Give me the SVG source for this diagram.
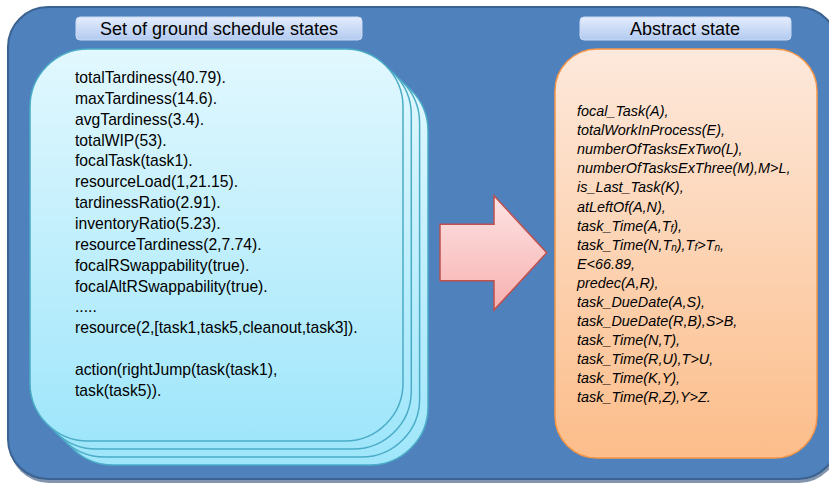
<svg xmlns="http://www.w3.org/2000/svg" width="829" height="483" viewBox="0 0 829 483">
  <defs>
    <linearGradient id="cardGrad" x1="0" y1="0" x2="0" y2="1">
      <stop offset="0" stop-color="#e2f8fe"/>
      <stop offset="1" stop-color="#9fe6fb"/>
    </linearGradient>
    <linearGradient id="orangeGrad" x1="0" y1="0" x2="0" y2="1">
      <stop offset="0" stop-color="#fde9dc"/>
      <stop offset="1" stop-color="#fcbd8a"/>
    </linearGradient>
    <linearGradient id="titleGrad" x1="0" y1="0" x2="0" y2="1">
      <stop offset="0" stop-color="#e4edfb"/>
      <stop offset="1" stop-color="#b2caf1"/>
    </linearGradient>
    <linearGradient id="arrowGrad" x1="0" y1="0" x2="0" y2="1">
      <stop offset="0" stop-color="#fde3e3"/>
      <stop offset="1" stop-color="#f8b0b0"/>
    </linearGradient>
  </defs>
  <style>
    .panel { fill: #4f81bd; stroke: #3b6291; stroke-width: 2; }
    .title { fill: url(#titleGrad); stroke: #c9d8f3; stroke-width: 1; }
    .title-text { font-family: "Liberation Sans", Arial, sans-serif; font-size: 18px; fill: #000; text-anchor: middle; }
    .card { fill: url(#cardGrad); stroke: #4bacc6; stroke-width: 1.5; }
    .facts { font-family: "Liberation Sans", Arial, sans-serif; font-size: 15.7px; fill: #000; }
    .abstract { fill: url(#orangeGrad); stroke: #f79646; stroke-width: 1.5; }
    .rules { font-family: "Liberation Sans", Arial, sans-serif; font-size: 14.4px; font-style: italic; fill: #000; }
    .sub { font-size: 10px; }
    .arrow { fill: url(#arrowGrad); stroke: #c0504d; stroke-width: 1.5; }
  </style>

  <!-- background panel with bottom shadow -->
  <rect x="9" y="10" width="830" height="473" rx="40" fill="#2f4f75" opacity="0.6"/>
  <rect class="panel" x="8" y="7" width="830" height="472" rx="40"/>

  <!-- ground states: stack of cards, each shifted down and right -->
  <g id="ground-states">
    <rect class="title" x="76" y="17" width="286" height="23" rx="4"/>
    <text class="title-text" x="219" y="35">Set of ground schedule states</text>
    <rect class="card" x="55" y="73" width="373" height="392" rx="58"/>
    <rect class="card" x="46.6" y="65" width="373" height="392" rx="58"/>
    <rect class="card" x="38.3" y="57" width="373" height="392" rx="58"/>
    <rect class="card" x="30" y="49" width="373" height="392" rx="58"/>
    <text class="facts">
      <tspan x="75" y="83">totalTardiness(40.79).</tspan>
      <tspan x="75" y="103.85">maxTardiness(14.6).</tspan>
      <tspan x="75" y="124.7">avgTardiness(3.4).</tspan>
      <tspan x="75" y="145.55">totalWIP(53).</tspan>
      <tspan x="75" y="166.4">focalTask(task1).</tspan>
      <tspan x="75" y="187.25">resourceLoad(1,21.15).</tspan>
      <tspan x="75" y="208.1">tardinessRatio(2.91).</tspan>
      <tspan x="75" y="228.95">inventoryRatio(5.23).</tspan>
      <tspan x="75" y="249.8">resourceTardiness(2,7.74).</tspan>
      <tspan x="75" y="270.65">focalRSwappability(true).</tspan>
      <tspan x="75" y="291.5">focalAltRSwappability(true).</tspan>
      <tspan x="75" y="312.35">.....</tspan>
      <tspan x="75" y="333.2">resource(2,[task1,task5,cleanout,task3]).</tspan>
      <tspan x="75" y="374.9">action(rightJump(task(task1),</tspan>
      <tspan x="75" y="395.75">task(task5)).</tspan>
    </text>
  </g>

  <!-- connectors -->
  <g id="connectors">
    <path class="arrow" d="M440,224.3 L494,224.3 L494,195.7 L546.7,252.7 L494,310 L494,280.7 L440,280.7 Z"/>
  </g>

  <!-- abstract state -->
  <g id="abstract-state">
    <rect class="title" x="580" y="17" width="211" height="23" rx="4"/>
    <text class="title-text" x="685" y="35">Abstract state</text>
    <rect class="abstract" x="555" y="49" width="262" height="409" rx="42"/>
    <text class="rules">
      <tspan x="577" y="116.3">focal_Task(A),</tspan>
      <tspan x="577" y="135.3">totalWorkInProcess(E),</tspan>
      <tspan x="577" y="154.4">numberOfTasksExTwo(L),</tspan>
      <tspan x="577" y="173.4">numberOfTasksExThree(M),M&gt;L,</tspan>
      <tspan x="577" y="192.4">is_Last_Task(K),</tspan>
      <tspan x="577" y="211.5">atLeftOf(A,N),</tspan>
      <tspan x="577" y="230.5">task_Time(A,T<tspan class="sub" dy="1.5">f</tspan><tspan dy="-1.5">),</tspan></tspan>
      <tspan x="577" y="249.5">task_Time(N,T<tspan class="sub" dy="1.5">n</tspan><tspan dy="-1.5">),T</tspan><tspan class="sub" dy="1.5">f</tspan><tspan dy="-1.5">&gt;T</tspan><tspan class="sub" dy="1.5">n</tspan><tspan dy="-1.5">,</tspan></tspan>
      <tspan x="577" y="268.5">E&lt;66.89,</tspan>
      <tspan x="577" y="287.6">predec(A,R),</tspan>
      <tspan x="577" y="306.6">task_DueDate(A,S),</tspan>
      <tspan x="577" y="325.6">task_DueDate(R,B),S&gt;B,</tspan>
      <tspan x="577" y="344.7">task_Time(N,T),</tspan>
      <tspan x="577" y="363.7">task_Time(R,U),T&gt;U,</tspan>
      <tspan x="577" y="382.7">task_Time(K,Y),</tspan>
      <tspan x="577" y="401.8">task_Time(R,Z),Y&gt;Z.</tspan>
    </text>
  </g>
</svg>
